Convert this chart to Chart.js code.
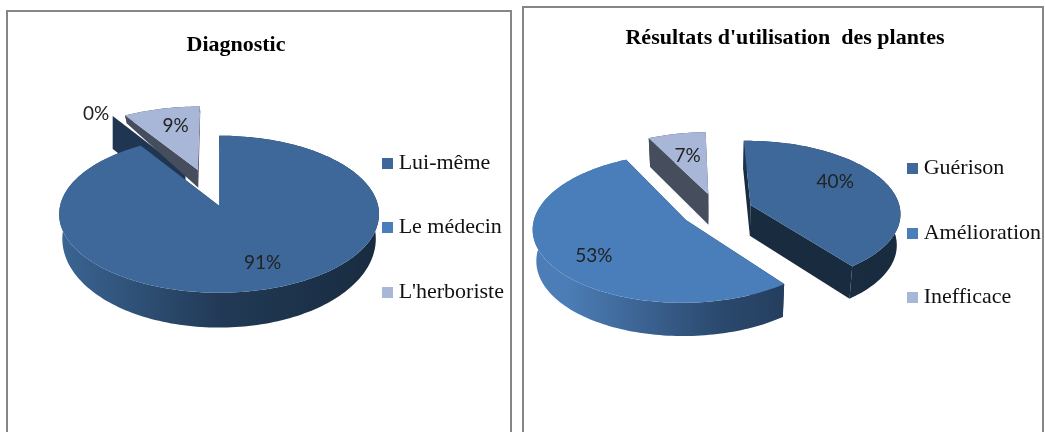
<!DOCTYPE html>
<html>
<head>
<meta charset="utf-8">
<script src="https://cdn.jsdelivr.net/npm/chart.js@4/dist/chart.umd.js"></script>
<style>
  html, body { margin: 0; width: 1045px; height: 432px; overflow: hidden; background: #fff; }
  .frame { position: absolute; border: 2px solid #868686; box-sizing: border-box; height: 500px; }
  canvas { position: absolute; top: 0; }
</style>
</head>
<body>
<div class="frame" style="left:6px;top:10px;width:506px"></div>
<div class="frame" style="left:522px;top:6px;width:522px"></div>
<canvas id="chartDiag" width="556" height="455" style="left:-42px"></canvas>
<canvas id="chartRes" width="532" height="466" style="left:519px"></canvas>
<script>
// data
const diagLabels = ['Lui-même', 'Le médecin', "L'herboriste"];
const diagValues = [91, 0, 9];
const resLabels = ['Guérison', 'Amélioration', 'Inefficace'];
const resValues = [40, 53, 7];

// colours
const topColors = ['#3D6899', '#4A7EBB', '#A8B7D7'];
const diagWalls = ['#1F3552', '#1F3552', '#464E5E'];
const resWalls = ['#182B3F', '#1F3552', '#464E5E'];
const diagRim = [['#3B6594', '#223A56', '#182B40'], ['#1F3552', '#1F3552', '#1F3552'], ['#464E5E', '#464E5E', '#464E5E']];
const resRim = [['#2F5078', '#1F3552', '#182B3F'], ['#4C7DB6', '#2B4A6F', '#1C2F48'], ['#464E5E', '#464E5E', '#464E5E']];

// slice pull-out, px
const diagOffsets = [0, 65, 80];
const resOffsets = [36, 36, 36];

// where the % text sits: fraction of radius + nudge
const diagSpots = [[0.7, 10, 1], [1, -16.5, -10], [0.7, 4, 0]];
const resSpots = [[0.6, 3, -9], [0.6, -11, 11], [0.6, -1, -1]];

// 3d look of each pie
const diagView = { persp: 0.108, squash: 0.488, shift: 68, lift: 51, depth: 23.3, depthSlope: 11.6, narrow: 0.02, zeroWall: 33, zeroLift: 8 };
const resView = { persp: 0.105, squash: 0.48, shift: 22.75, lift: 48, depth: 31, depthSlope: 2, narrow: 0.02, zeroWall: 33, zeroLift: 0 };

function project(view, cx, cy, R, u, v, z) {
  const d = 1 - view.persp * v;
  return {
    x: cx + view.shift + R * u / d * (1 - z * view.narrow),
    y: cy - view.lift + R * view.squash * v / d + z * (view.depth + view.depthSlope * v)
  };
}

function fillPath(ctx, pts, color) {
  ctx.beginPath();
  pts.forEach((p, i) => i ? ctx.lineTo(p.x, p.y) : ctx.moveTo(p.x, p.y));
  ctx.closePath();
  ctx.fillStyle = color;
  ctx.fill();
}

class Arc3D extends Chart.elements.ArcElement {
  static id = 'arc3d';

  // disc position, in radius units, of a point on this slice
  spot(r, a) {
    const off = this.options.offset / this.outerRadius;
    const mid = (this.startAngle + this.endAngle) / 2;
    return [off * Math.cos(mid) + r * Math.cos(a), off * Math.sin(mid) + r * Math.sin(a)];
  }

  draw(ctx, view, wall, rim) {
    const R = this.outerRadius;
    const at = (r, a, z) => {
      const [u, v] = this.spot(r, a);
      return project(view, this.x, this.y, R, u, v, z);
    };
    const a0 = this.startAngle, a1 = this.endAngle;

    // a slice of 0% only shows its cut face
    if (this.circumference === 0) {
      const tip = at(0, a0, 0), edge = at(1, a0, 0);
      const up = view.zeroLift, h = view.zeroWall;
      fillPath(ctx, [
        { x: tip.x, y: tip.y - up },
        { x: edge.x, y: edge.y - up },
        { x: edge.x, y: edge.y - up + h },
        { x: tip.x, y: tip.y - up + h }
      ], wall);
      return;
    }

    const steps = Math.max(8, Math.ceil(this.circumference * 40));
    const top = [], low = [];
    for (let i = 0; i <= steps; i++) {
      const a = a0 + (a1 - a0) * i / steps;
      top.push(at(1, a, 0));
      low.push(at(1, a, 1));
    }

    // cut faces, the top face hides the ones turned away
    fillPath(ctx, [at(0, a0, 0), top[0], low[0], at(0, a0, 1)], wall);
    fillPath(ctx, [at(0, a1, 0), top[steps], low[steps], at(0, a1, 1)], wall);

    // outer rim
    const g = ctx.createLinearGradient(this.x + view.shift - R, 0, this.x + view.shift + R, 0);
    g.addColorStop(0, rim[0]);
    g.addColorStop(0.5, rim[1]);
    g.addColorStop(1, rim[2]);
    fillPath(ctx, top.concat(low.slice().reverse()), g);

    fillPath(ctx, [at(0, a0, 0)].concat(top), this.options.backgroundColor);
  }
}

class Pie3D extends Chart.controllers.pie {
  static id = 'pie3d';
  static defaults = { dataElementType: 'arc3d' };

  draw() {
    const ds = this.getDataset();
    const arcs = this._cachedMeta.data;
    arcs.map((arc, i) => ({ arc, i }))
      .sort((a, b) => a.arc.circumference - b.arc.circumference)
      .forEach(o => o.arc.draw(this.chart.ctx, ds.view, ds.walls[o.i], ds.rims[o.i]));
  }
}

Chart.register(Arc3D, Pie3D);

function swatch(color) {
  const c = document.createElement('canvas');
  c.width = 11;
  c.height = 11;
  const g = c.getContext('2d');
  g.fillStyle = color;
  g.fillRect(0, 0, 11, 11);
  return c;
}

const percentLabels = {
  id: 'percentLabels',
  afterDatasetsDraw(chart) {
    const ds = chart.data.datasets[0];
    const ctx = chart.ctx;
    ctx.save();
    ctx.font = '19px Lato';
    ctx.fillStyle = '#222';
    ctx.textAlign = 'center';
    ctx.textBaseline = 'middle';
    chart.getDatasetMeta(0).data.forEach((arc, i) => {
      const [f, dx, dy] = ds.spots[i];
      const mid = (arc.startAngle + arc.endAngle) / 2;
      const [u, v] = arc.spot(f, mid);
      const p = project(ds.view, arc.x, arc.y, arc.outerRadius, u, v, 0);
      ctx.fillText(ds.data[i] + '%', p.x + dx, p.y + dy);
    });
    ctx.restore();
  }
};

function makePie(id, title, titleTop, labels, values, offsets, walls, rims, view, spots, radius, rotation) {
  return new Chart(document.getElementById(id), {
    type: 'pie3d',
    data: {
      labels: labels,
      datasets: [{
        data: values,
        backgroundColor: topColors,
        offset: offsets,
        borderWidth: 0,
        walls: walls,
        rims: rims,
        view: view,
        spots: spots
      }]
    },
    plugins: [percentLabels],
    options: {
      responsive: false,
      animation: false,
      radius: radius,
      rotation: rotation,
      plugins: {
        title: {
          display: true,
          text: title,
          color: '#000',
          font: { family: 'Liberation Serif', size: 22, weight: 'bold' },
          padding: { top: titleTop, bottom: 0 }
        },
        legend: {
          position: 'right',
          labels: {
            usePointStyle: true,
            boxWidth: 1,
            padding: 42.5,
            color: '#111',
            font: { family: 'Liberation Serif', size: 22 },
            generateLabels: chart => chart.data.labels.map((text, i) => ({
              text: text,
              fillStyle: topColors[i],
              strokeStyle: topColors[i],
              lineWidth: 0,
              fontColor: '#111',
              pointStyle: swatch(topColors[i]),
              index: i
            }))
          }
        },
        tooltip: { enabled: false }
      }
    }
  });
}

document.addEventListener('DOMContentLoaded', function() {
  makePie('chartDiag', 'Diagnostic', 32, diagLabels, diagValues, diagOffsets, diagWalls, diagRim, diagView, diagSpots, 159, 0);
  makePie('chartRes', "Résultats d'utilisation  des plantes", 25, resLabels, resValues, resOffsets, resWalls, resRim, resView, resSpots, 150, -1.5);
});
</script>
</body>
</html>
